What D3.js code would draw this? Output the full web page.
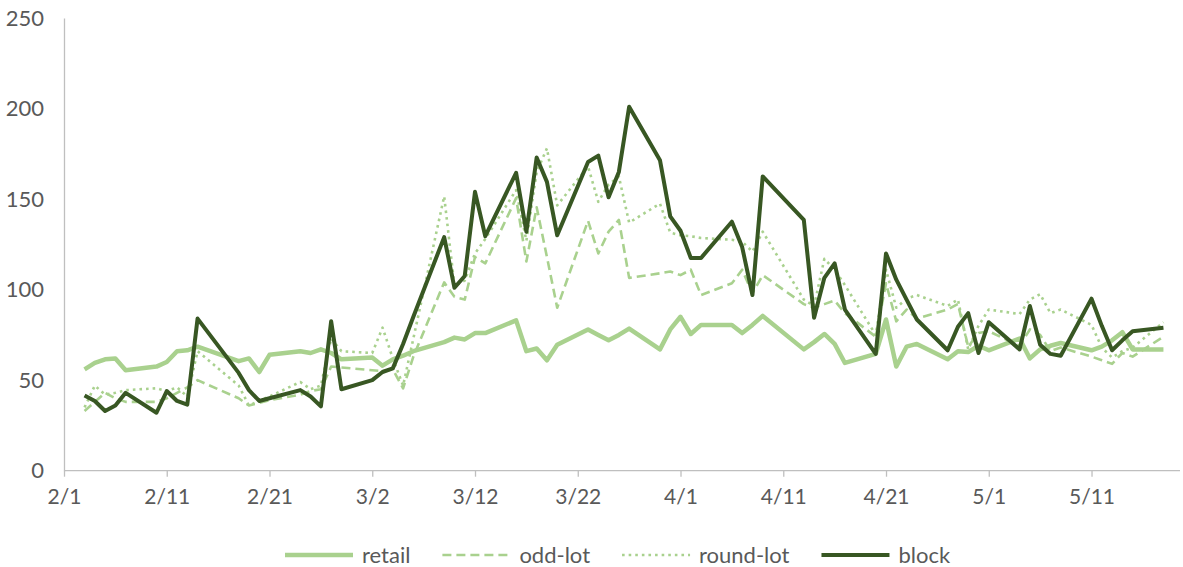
<!DOCTYPE html>
<html>
<head>
<meta charset="utf-8">
<title>retail vs block</title>
<script src="https://cdn.jsdelivr.net/npm/d3@7"></script>
<style>
  body { margin: 0; background: #fff; }
  text { font-family: Lato, "Liberation Sans", Arial, sans-serif; fill: #595959; }
</style>
</head>
<body>
<script>
// trading days, 2020
var dates = ["2/3","2/4","2/5","2/6","2/7","2/10","2/11","2/12","2/13","2/14",
  "2/18","2/19","2/20","2/21","2/24","2/25","2/26","2/27","2/28",
  "3/2","3/3","3/4","3/5","3/6","3/9","3/10","3/11","3/12","3/13",
  "3/16","3/17","3/18","3/19","3/20","3/23","3/24","3/25","3/26","3/27",
  "3/30","3/31","4/1","4/2","4/3","4/6","4/7","4/8","4/9",
  "4/13","4/14","4/15","4/16","4/17","4/20","4/21","4/22","4/23","4/24",
  "4/27","4/28","4/29","4/30","5/1","5/4","5/5","5/6","5/7","5/8",
  "5/11","5/12","5/13","5/14","5/15","5/18"];

var retail = [56,59.5,61.5,62,55.5,57.5,60,66,66.5,68.5,
  60.5,62,54.5,64,66,65,67,65,61.5,
  62.5,58,61.5,63.5,66,71,73.5,72.5,76,76,
  83,66,67.5,61,69.5,78,75,72,75,78.5,
  67,78,85,75.5,80.5,80.5,76,80.5,85.5,
  67,71,75.5,70,59.5,64.5,83.5,57.5,68.5,70,
  61.5,66,65.5,69,66.5,73,62,67,69,70.5,
  66.5,68.5,72,76.5,67,67];

var oddLot = [33,38,43,40,38,38,40,43,46,50,
  40,36,37.5,39,42,44,45,57.5,57,
  55.5,55,56,45.5,63,104,96,94.5,118,114.5,
  150.5,115.5,145.5,118,90,138,120,132,138.5,106.5,
  109,110,108,111,97,103.5,111,98,108,
  92,90,92,94,87,74,103.5,82.5,89,84,
  89,92,68.5,76,77,69,78,75,66,68,
  63,61,59,65,63,74];

var roundLot = [35,47,42,43,44.5,45.5,44,46,41,66,
  47,36,38.5,41,49,45,47,73,66,
  65,79,62,47,73,151.5,102,105,120,128,
  155,127,165,178,146.5,168,148.5,158,162.5,137,
  147.5,131.5,130,129.5,128.5,127.5,126.5,121,132,
  94.5,91,117,111,102.5,75,111,90,95,97,
  91,94.5,67,80,89,86.5,94.5,97.5,87,89,
  80.5,68,62.5,66,68,82];

var block = [41.5,38.5,33,36,43,32,44,38.5,36.5,84,
  54,44.5,38.5,40,44.5,41,35.5,82.5,45,
  50,54.5,56.5,70,85,129,101,107.5,154,129.5,
  164.5,132,173,159.5,130,170.5,174,151,165,201,
  171.5,140.5,132.5,117.5,117.5,137.5,123.5,97,162.5,
  138.5,84.5,106.5,114.5,89,64.5,120,105.5,94.5,83.5,
  66.5,79.5,87,65,82,67,91,69.5,64.5,63.5,
  95,80,66.5,72,77,79];

var yTicks = [0, 50, 100, 150, 200, 250];
var xTickLabels = ["2/1","2/11","2/21","3/2","3/12","3/22","4/1","4/11","4/21","5/1","5/11"];

var width = 1183, height = 567;
var light = "#a9d18e", dark = "#385723";

var parseDay = d3.timeParse("%m/%d/%Y");
function toDate(s) { return parseDay(s + "/2020"); }

var series = [
  { name: "retail",    values: retail,   color: light, w: 4.5, dash: null },
  { name: "odd-lot",   values: oddLot,   color: light, w: 2.6, dash: "9,5" },
  { name: "round-lot", values: roundLot, color: light, w: 2.6, dash: "2.6,4" },
  { name: "block",     values: block,    color: dark,  w: 4,   dash: null }
];

var x = d3.scaleTime()
  .domain([toDate("2/1"), toDate("5/20")])
  .range([64, 1184]);
var y = d3.scaleLinear()
  .domain([0, 250])
  .range([470.7, 18]);

var svg = d3.select("body").append("svg")
  .attr("width", width)
  .attr("height", height);

// y axis: line + labels, no ticks
var yAxis = svg.append("g")
  .attr("transform", "translate(64,0)")
  .call(d3.axisLeft(y).tickValues(yTicks).tickSize(0).tickPadding(20));
yAxis.select(".domain").attr("stroke", "#bfbfbf").attr("stroke-width", 1.3);
yAxis.selectAll("text").style("font-size", "22px").attr("fill", "#595959");

// x axis
var xTicks = xTickLabels.map(toDate);
var xAxis = svg.append("g")
  .attr("transform", "translate(0," + y(0) + ")")
  .call(d3.axisBottom(x).tickValues(xTicks).tickSize(6).tickPadding(12)
    .tickFormat(function(d, i) { return xTickLabels[i]; }));
xAxis.select(".domain").attr("stroke", "#bfbfbf").attr("stroke-width", 1.3)
  .attr("d", "M64,0H1180");
xAxis.selectAll("line").attr("stroke", "#bfbfbf").attr("stroke-width", 1.3);
xAxis.selectAll("text").style("font-size", "21px").attr("fill", "#595959");

var line = d3.line()
  .x(function(d, i) { return x(toDate(dates[i])); })
  .y(function(d) { return y(d); });

series.forEach(function(s) {
  svg.append("path")
    .datum(s.values)
    .attr("fill", "none")
    .attr("stroke", s.color)
    .attr("stroke-width", s.w)
    .attr("stroke-linejoin", "round")
    .attr("stroke-dasharray", s.dash)
    .attr("d", line);
});

// legend
var legend = svg.append("g").attr("transform", "translate(285,555)");
var lx = 0;
series.forEach(function(s) {
  var g = legend.append("g").attr("transform", "translate(" + lx + ",0)");
  g.append("line")
    .attr("x1", 0).attr("x2", 68)
    .attr("stroke", s.color)
    .attr("stroke-width", s.w)
    .attr("stroke-dasharray", s.dash);
  var t = g.append("text")
    .attr("x", 77).attr("y", 7.5)
    .style("font-size", "22px")
    .text(s.name);
  lx += 77 + t.node().getComputedTextLength() + 32;
});
</script>
</body>
</html>
